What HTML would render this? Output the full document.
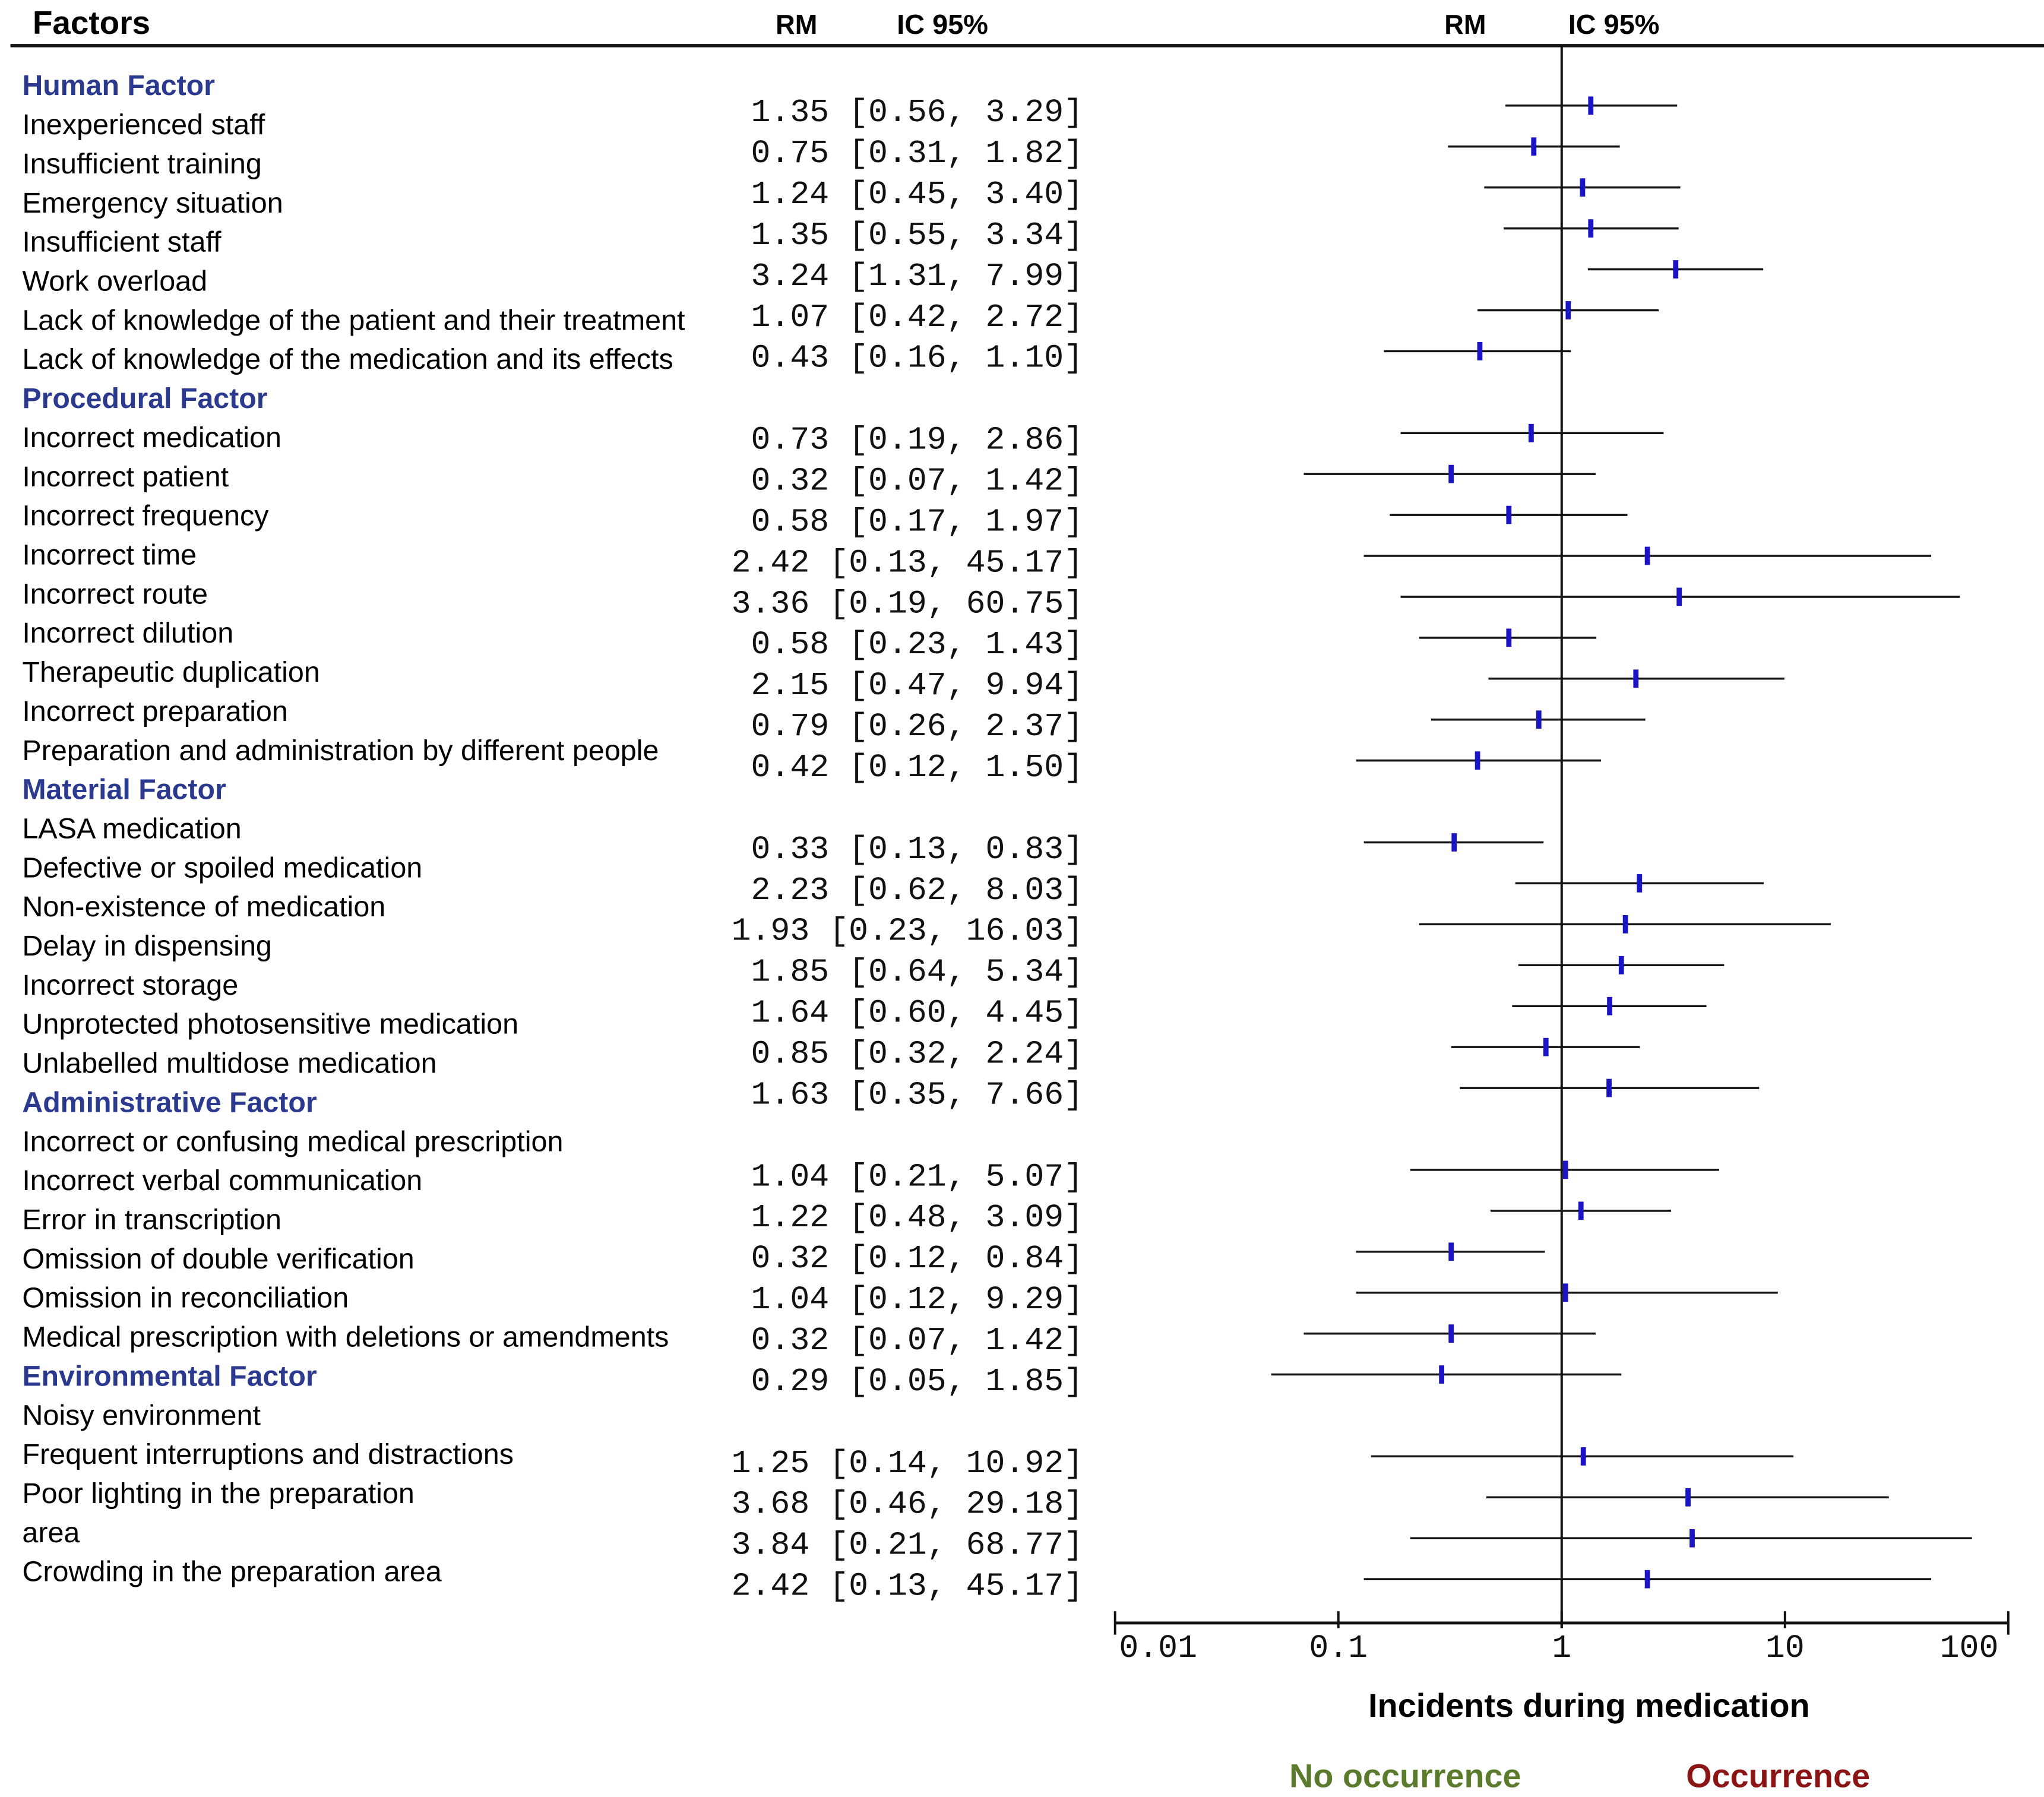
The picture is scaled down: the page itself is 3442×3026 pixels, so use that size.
<!DOCTYPE html>
<html><head><meta charset="utf-8"><style>
html,body{margin:0;padding:0;background:#fff;}
svg{display:block;}
.lab{font-family:"Liberation Sans",sans-serif;font-size:22.1px;fill:#000;}
.cat{font-family:"Liberation Sans",sans-serif;font-size:22px;font-weight:bold;fill:#2b3a8f;}
.val{font-family:"Liberation Mono",monospace;font-size:25px;fill:#111;}
.hdr{font-family:"Liberation Sans",sans-serif;font-weight:bold;fill:#000;}
</style></head><body>
<svg id="chart" width="3442" height="3026" viewBox="0 0 1568 1378.5">
<g id="labels"></g><g id="vals"></g><g id="plot"></g>
</svg>
<script>
const labels = ["Human Factor","Inexperienced staff","Insufficient training","Emergency situation","Insufficient staff","Work overload","Lack of knowledge of the patient and their treatment","Lack of knowledge of the medication and its effects","Procedural Factor","Incorrect medication","Incorrect patient","Incorrect frequency","Incorrect time","Incorrect route","Incorrect dilution","Therapeutic duplication","Incorrect preparation","Preparation and administration by different people","Material Factor","LASA medication","Defective or spoiled medication","Non-existence of medication","Delay in dispensing","Incorrect storage","Unprotected photosensitive medication","Unlabelled multidose medication","Administrative Factor","Incorrect or confusing medical prescription","Incorrect verbal communication","Error in transcription","Omission of double verification","Omission in reconciliation","Medical prescription with deletions or amendments","Environmental Factor","Noisy environment","Frequent interruptions and distractions","Poor lighting in the preparation","area","Crowding in the preparation area"];
const categoryRows = [0,8,18,26,33];
const groupSizes = [7,9,7,6,4];
const rm = [1.35,0.75,1.24,1.35,3.24,1.07,0.43, 0.73,0.32,0.58,2.42,3.36,0.58,2.15,0.79,0.42, 0.33,2.23,1.93,1.85,1.64,0.85,1.63, 1.04,1.22,0.32,1.04,0.32,0.29, 1.25,3.68,3.84,2.42];
const lo = [0.56,0.31,0.45,0.55,1.31,0.42,0.16, 0.19,0.07,0.17,0.13,0.19,0.23,0.47,0.26,0.12, 0.13,0.62,0.23,0.64,0.60,0.32,0.35, 0.21,0.48,0.12,0.12,0.07,0.05, 0.14,0.46,0.21,0.13];
const hi = [3.29,1.82,3.40,3.34,7.99,2.72,1.10, 2.86,1.42,1.97,45.17,60.75,1.43,9.94,2.37,1.50, 0.83,8.03,16.03,5.34,4.45,2.24,7.66, 5.07,3.09,0.84,9.29,1.42,1.85, 10.92,29.18,68.77,45.17];
const ticks = [0.01,0.1,1,10,100];
const tickLabels = ["0.01","0.1","1","10","100"];

const NS="http://www.w3.org/2000/svg";
function mk(tag,attrs,parent,text){const e=document.createElementNS(NS,tag);for(const k in attrs)e.setAttribute(k,attrs[k]);if(text!==undefined)e.textContent=text;parent.appendChild(e);return e;}
const svg=document.getElementById('chart');
const gL=document.getElementById('labels'),gV=document.getElementById('vals'),gP=document.getElementById('plot');
const x=v=>1198+171.3*Math.log10(v);
const rowY=i=>65+30*i;

let t=mk('text',{x:25,y:26,class:'hdr','font-size':25},svg,'Factors');

[[595,'RM'],[688,'IC 95%'],[1108,'RM'],[1203,'IC 95%']].forEach(([px,s])=>{
 const e=mk('text',{x:px,y:26,class:'hdr','font-size':21,textLength:s==='RM'?32:70,lengthAdjust:'spacingAndGlyphs'},svg,s);
 
 
});
let hl=mk('line',{x1:8,x2:1568,y1:35,y2:35,stroke:'#111','stroke-width':2.5},svg);


labels.forEach((s,i)=>{
 const isCat=categoryRows.includes(i);
 const e=mk('text',{x:17,y:rowY(i)+8,class:isCat?'cat':'lab'},gL,s);
 
 
});

let slots=[],s=0;
groupSizes.forEach(n=>{for(let k=0;k<n;k++)slots.push(s++);s++;});
const vy=k=>84+31.4*k;
rm.forEach((r,i)=>{
 const y=vy(slots[i]);
 const e=mk('text',{x:831,y:y+9,class:'val','text-anchor':'end'},gV,r.toFixed(2)+' ['+lo[i].toFixed(2)+', '+hi[i].toFixed(2)+']');
 
 
 const cy=y-3;
 const l=mk('line',{x1:x(lo[i]),x2:x(hi[i]),y1:cy,y2:cy,stroke:'#111','stroke-width':1.6},gP);
 
 
 const m=mk('rect',{x:x(r)-2,y:cy-7,width:4,height:14,fill:'#1a14c4'},gP);
 
 
});

const ax=mk('line',{x1:x(0.01),x2:x(100),y1:1245,y2:1245,stroke:'#111','stroke-width':2.2},gP);

const ref=mk('line',{x1:x(1),x2:x(1),y1:35,y2:1249,stroke:'#111','stroke-width':1.8},gP);

ticks.forEach((v,i)=>{
 const tk=mk('line',{x1:x(v),x2:x(v),y1:1236,y2:(i==0||i==4)?1254:1249,stroke:'#111','stroke-width':1.8},gP);
 
 const tl=mk('text',{x:x(v)+(i==0?33:i==4?-30:0),y:1271,class:'val','font-size':25,'text-anchor':'middle'},gP,tickLabels[i]);
 
});
const at=mk('text',{x:1219,y:1317,class:'hdr','font-size':25.4,'text-anchor':'middle'},svg,'Incidents during medication');

const n1=mk('text',{x:1078,y:1371,class:'hdr','font-size':25.4,'text-anchor':'middle',style:'fill:#5a7a2c'},svg,'No occurrence');

const n2=mk('text',{x:1364,y:1371,class:'hdr','font-size':25.4,'text-anchor':'middle',style:'fill:#8b1414'},svg,'Occurrence');

</script>
</body></html>
